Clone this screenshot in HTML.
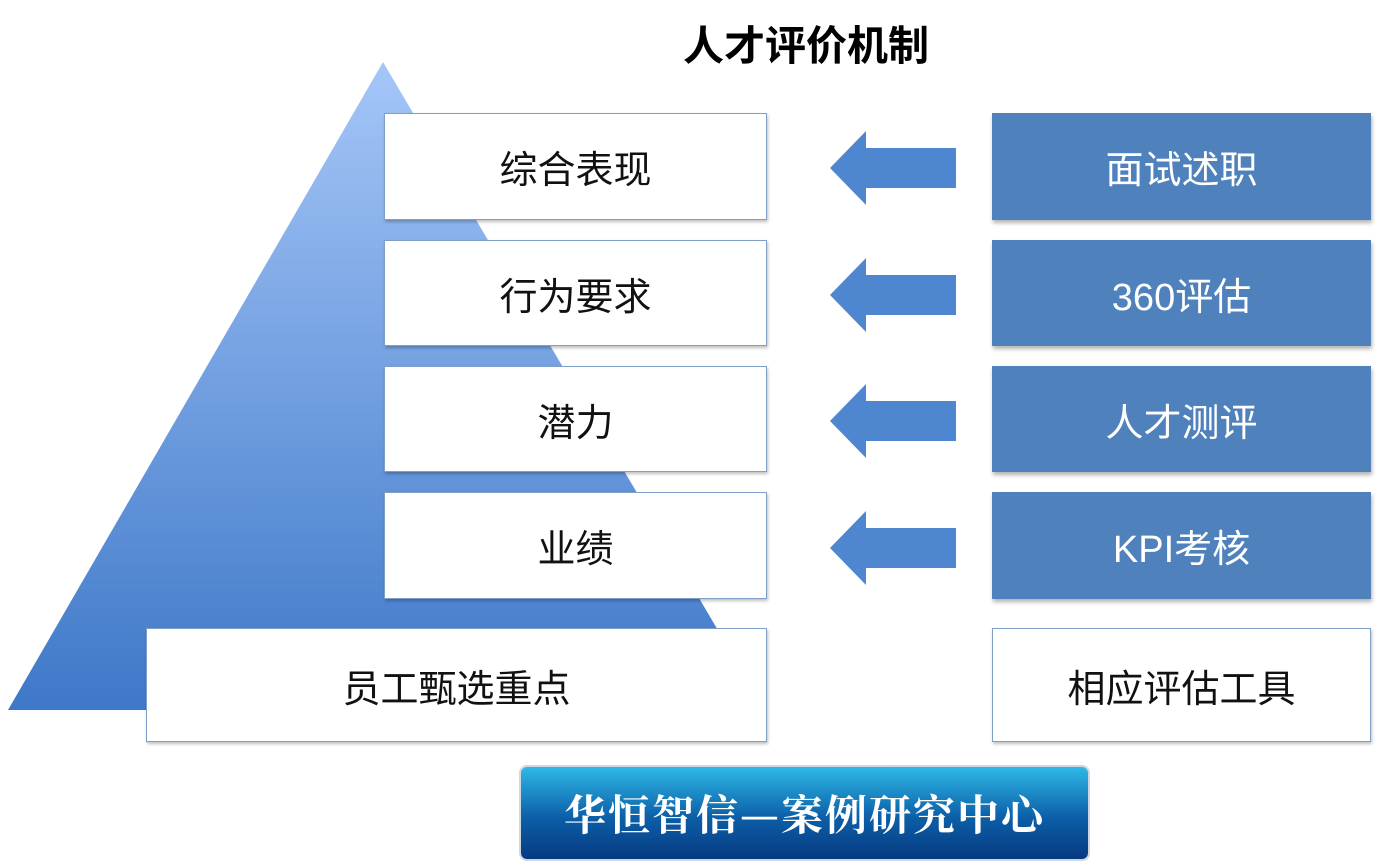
<!DOCTYPE html>
<html><head><meta charset="utf-8"><style>
body{margin:0;width:1379px;height:864px;background:#fff;position:relative;overflow:hidden;font-family:"Liberation Sans","Noto Sans CJK SC",sans-serif}
.b{position:absolute;box-sizing:border-box;display:flex;align-items:center;justify-content:center;font-size:38px}
.w{background:#fff;border:1.5px solid #7f9fc8;color:#111;box-shadow:1px 2px 3px rgba(0,0,0,.25)}
.bl{background:#4f81bd;color:#fff;box-shadow:1px 3px 4px rgba(0,0,0,.3)}
</style></head><body>
<div style="position:absolute;left:0;top:12px;width:1612px;text-align:center;font-size:41px;font-weight:bold;color:#000">人才评价机制</div>
<svg width="1379" height="864" style="position:absolute;left:0;top:0">
<defs><linearGradient id="g" x1="0" y1="0" x2="0" y2="1"><stop offset="0" stop-color="#a5c6f8"/><stop offset="1" stop-color="#3e78c8"/></linearGradient></defs>
<polygon points="383,62 8,710 765,710" fill="url(#g)"/>
<g fill="#4f86d0">
<polygon points="830,168 866,131 866,148 956,148 956,188 866,188 866,205"/>
<polygon points="830,295 866,258 866,275 956,275 956,315 866,315 866,332"/>
<polygon points="830,421 866,384 866,401 956,401 956,441 866,441 866,458"/>
<polygon points="830,548 866,511 866,528 956,528 956,568 866,568 866,585"/>
</g></svg>
<div class="b w" style="left:384px;top:113px;width:383px;height:107px">综合表现</div>
<div class="b w" style="left:384px;top:240px;width:383px;height:106px">行为要求</div>
<div class="b w" style="left:384px;top:366px;width:383px;height:106px">潜力</div>
<div class="b w" style="left:384px;top:492px;width:383px;height:107px">业绩</div>
<div class="b w" style="left:146px;top:628px;width:621px;height:114px">员工甄选重点</div>
<div class="b bl" style="left:992px;top:113px;width:379px;height:107px">面试述职</div>
<div class="b bl" style="left:992px;top:240px;width:379px;height:106px">360评估</div>
<div class="b bl" style="left:992px;top:366px;width:379px;height:106px">人才测评</div>
<div class="b bl" style="left:992px;top:492px;width:379px;height:107px">KPI考核</div>
<div class="b w" style="left:992px;top:628px;width:379px;height:114px">相应评估工具</div>
<div class="b" style="left:521px;top:767px;width:567px;height:92px;border-radius:6px;background:linear-gradient(#2fb8e6,#0b5fa8 55%,#083a80);color:#fff;font-family:'Noto Serif CJK SC',serif;font-weight:bold;font-size:42px;letter-spacing:2px;box-shadow:0 0 0 2px #cfd8e0">华恒智信—案例研究中心</div>
</body></html>
